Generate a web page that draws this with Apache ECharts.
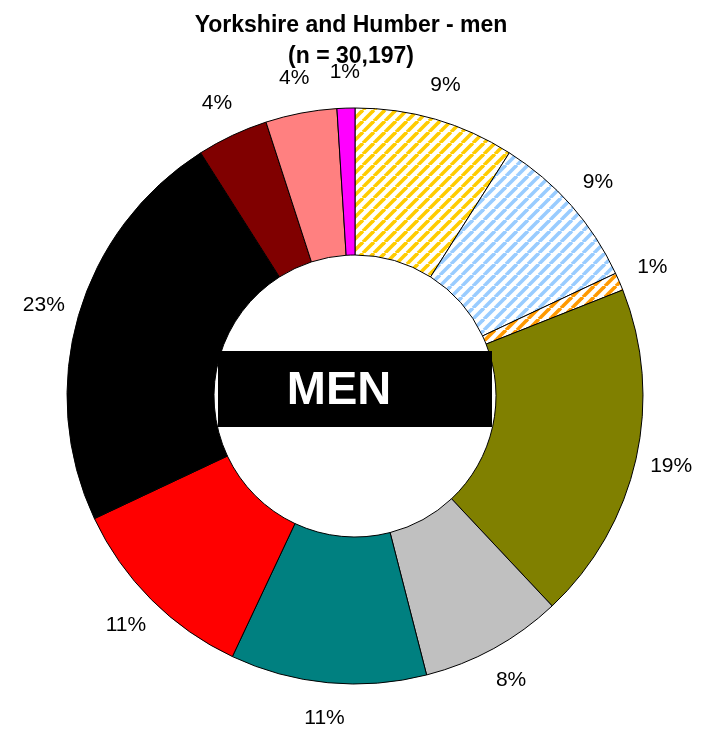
<!DOCTYPE html>
<html>
<head>
<meta charset="utf-8">
<script src="https://cdn.jsdelivr.net/npm/echarts@6/dist/echarts.min.js"></script>
<style>
  html, body { margin: 0; padding: 0; background: #fff; }
  #chart { width: 702px; height: 729px; }
</style>
</head>
<body>
<div id="chart"></div>
<script>
// 数据 (clockwise from 12 o'clock)
const categories = ['cat1', 'cat2', 'cat3', 'cat4', 'cat5', 'cat6', 'cat7', 'cat8', 'cat9', 'cat10', 'cat11']
const shares = [9, 9, 1, 19, 8, 11, 11, 23, 4, 4, 1]
const titleText = 'Yorkshire and Humber - men'
const subText = '(n = 30,197)'

// 斜线填充
const hatch = (color) => {
  const s = 11
  const c = document.createElement('canvas')
  c.width = s
  c.height = s
  const ctx = c.getContext('2d')
  ctx.fillStyle = '#fff'
  ctx.fillRect(0, 0, s, s)
  ctx.strokeStyle = color
  ctx.lineWidth = 3.6
  for (let k = -1; k <= 1; k++) {
    ctx.beginPath()
    ctx.moveTo(k * s, s)
    ctx.lineTo(k * s + s, 0)
    ctx.stroke()
  }
  return { image: c, repeat: 'repeat' }
}

const fills = [
  hatch('#FFCC00'), hatch('#99CCFF'), hatch('#FF9900'),
  '#808000', '#C0C0C0', '#008080', '#FF0000', '#000000',
  '#800000', '#FF8080', '#FF00FF'
]

const chart = echarts.init(document.getElementById('chart'))

const ringData = categories.map((name, i) => ({
  name,
  value: shares[i],
  itemStyle: { color: fills[i] }
}))

chart.setOption({
  animation: false,
  title: {
    text: titleText + '\n' + subText,
    left: 'center',
    top: 5,
    textStyle: {
      fontFamily: 'Liberation Sans, Arial, sans-serif',
      fontSize: 23,
      fontWeight: 'bold',
      lineHeight: 31,
      color: '#000'
    }
  },
  series: [
    {
      type: 'pie',
      center: [355, 396],
      radius: [141, 288],
      startAngle: 90,
      clockwise: true,
      silent: true,
      label: { show: false },
      labelLine: { show: false },
      itemStyle: { borderColor: '#000', borderWidth: 1 },
      data: ringData
    },
    {
      // labels only
      type: 'pie',
      center: [355, 396],
      radius: [312, 330],
      startAngle: 90,
      clockwise: true,
      silent: true,
      itemStyle: { color: 'rgba(0,0,0,0)' },
      labelLine: { show: false },
      label: {
        show: true,
        position: 'inside',
        formatter: '{c}%',
        color: '#000',
        fontSize: 21,
        fontFamily: 'Liberation Sans, Arial, sans-serif'
      },
      data: categories.map((name, i) => ({ name, value: shares[i] }))
    }
  ],
  graphic: [
    {
      type: 'rect',
      z: 100,
      shape: { x: 218, y: 351, width: 274, height: 76 },
      style: { fill: '#000' }
    },
    {
      type: 'text',
      z: 101,
      x: 339,
      y: 391,
      style: {
        text: 'MEN',
        fill: '#fff',
        fontSize: 47,
        fontWeight: 'bold',
        fontFamily: 'Liberation Sans, Arial, sans-serif',
        align: 'center',
        verticalAlign: 'middle'
      }
    }
  ]
})
</script>
</body>
</html>
